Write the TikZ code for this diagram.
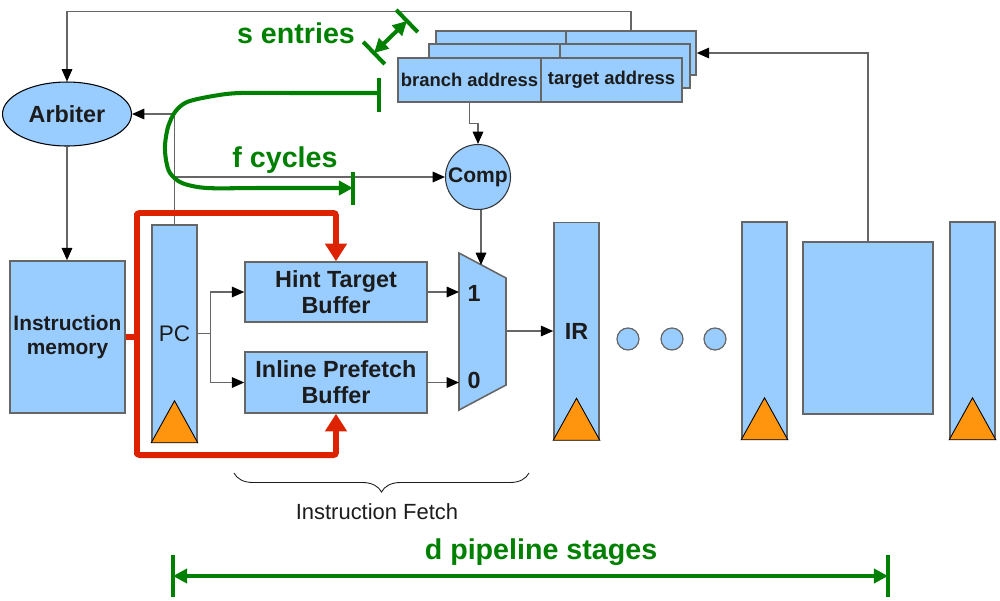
\documentclass[tikz,border=0pt]{standalone}
\usepackage{fontspec}
\setmainfont{Liberation Sans}
\usetikzlibrary{arrows.meta, calc, decorations.pathreplacing, positioning, shapes.geometric}
\definecolor{boxblue}{HTML}{99CCFF}
\definecolor{edgegray}{HTML}{666666}
\definecolor{clkorange}{HTML}{FF950E}
\definecolor{busred}{HTML}{DD2200}
\definecolor{annogreen}{HTML}{008000}
\definecolor{txt}{HTML}{1C1C1C}
\tikzset{
  >={Triangle[length=7pt, width=6pt, color=black]},
  shell/.style={draw=edgegray, fill=boxblue, line width=0.9pt},
  blk/.style={shell, inner sep=0pt, text=txt, align=center},
  reg/.style={blk, minimum width=0.9cm, minimum height=4.34cm},
  lbl/.style={font=\fontsize{13.3}{14.7}\selectfont\bfseries},
  tbl/.style={blk, minimum height=0.88cm, font=\fontsize{10.5}{12}\selectfont\bfseries},
  wire/.style={draw=edgegray, line width=0.8pt},
  bus/.style={draw=busred, line width=3.4pt, rounded corners=1.5pt,
    >={Triangle[length=10pt, width=12pt, color=busred]}},
  anno/.style={draw=annogreen, line width=2.3pt,
    >={Triangle[length=8pt, width=8pt, color=annogreen]}},
  annotext/.style={text=annogreen, font=\fontsize{16.3}{18}\selectfont\bfseries},
  clk/.style={draw=black, fill=clkorange, line width=0.5pt},
  bubble/.style={circle, draw=edgegray, fill=boxblue, minimum size=0.44cm, line width=0.7pt, inner sep=0pt},
}
% clock mark at the bottom of a register
\newcommand\clockmark[1]{\draw[clk] (#1.south west) -- (#1.south east) -- ([yshift=0.84cm]#1.south) -- cycle;}

\begin{document}
\begin{tikzpicture}[x=0.02cm, y=-0.02cm]
  \useasboundingbox (0,0) rectangle (1000,600);

  % tag table: three stacked copies, only the front one readable
  \node[tbl, minimum width=2.6cm] (bk1) at (501,53) {};
  \node[tbl, minimum width=2.6cm] (bk2) at (631,53) {};
  \node[tbl, minimum width=2.62cm] (md1) at (494.5,66) {};
  \node[tbl, minimum width=2.6cm] (md2) at (625,66) {};
  \node[tbl, minimum width=2.86cm] (fr1) at (469.5,80) {branch address};
  \node[tbl, minimum width=2.82cm] (fr2) at (611.5,80) {target address};

  % front end
  \node[ellipse, draw=black, fill=boxblue, line width=0.6pt, minimum width=2.58cm,
    minimum height=1.28cm, inner sep=0pt, text=txt, font=\fontsize{13.3}{15}\selectfont\bfseries] (arb) at (67,114) {Arbiter};
  \node[blk, minimum width=2.3cm, minimum height=3.04cm, font=\fontsize{11.9}{13.6}\selectfont\bfseries] (imem) at (67.5,337) {Instruction\\memory};
  \node[reg, font=\fontsize{12.8}{14}\selectfont] (pc) at (174.5,333.5) {PC};
  \node[blk, lbl, minimum width=3.64cm, minimum height=1.2cm] (htb) at (336,292) {Hint Target\\Buffer};
  \node[blk, lbl, minimum width=3.64cm, minimum height=1.22cm] (ipb) at (336,382.5) {Inline Prefetch\\Buffer};
  \node[circle, draw=black!80, fill=boxblue, line width=0.6pt, minimum size=1.3cm, inner sep=0pt,
    text=txt, font=\fontsize{12}{14}\selectfont\bfseries] (comp) at (478,177) {Comp};

  % mux
  \draw[shell] (459,253) -- (506,278) -- (506,385) -- (459,410) -- cycle;
  \coordinate (mux1) at (459,292);
  \coordinate (mux0) at (459,382.5);
  \coordinate (muxout) at (506,331);
  \coordinate (muxtop) at (481,265);
  \node[lbl, text=txt] (in1) at (474,293) {1};
  \node[lbl, text=txt] (in0) at (474,380) {0};

  % pipeline
  \node[reg, lbl] (ir) at (576.5,331) {IR};
  \foreach \x/\n in {628/d1, 672/d2, 715/d3}
    \node[bubble] (\n) at (\x,339) {};
  \node[reg] (rg3) at (764.5,330.5) {};
  \node[blk, minimum width=2.6cm, minimum height=3.44cm] (exe) at (868,328) {};
  \node[reg] (rg4) at (972.5,330.5) {};
  \foreach \r in {pc, ir, rg3, rg4}
    {\clockmark{\r}}

  % wires
  \draw[wire, ->] (bk2.north) -- ++(0,-19) -| (arb.north);
  \draw[wire, ->] (arb.south) -- (arb.south |- imem.north);
  \draw[wire, ->] (pc.north) |- (arb.east);
  \draw[wire, ->] (pc.north |- comp.west) -- (comp.west);
  \draw[wire, ->] (fr1.south) -- ++(0,21) -| (comp.north);
  \draw[wire, ->] (comp.south -| muxtop) -- (muxtop);
  \draw[wire, ->] (pc.east) -- ++(13,0) |- (htb.west);
  \draw[wire, ->] (pc.east) -- ++(13,0) |- (ipb.west);
  \draw[wire, ->] (htb.east) -- (mux1);
  \draw[wire, ->] (ipb.east) -- (mux0);
  \draw[wire, ->] (muxout) -- (muxout -| ir.west);
  \draw[wire, ->] (exe.north) |- (bk2.east);

  % hint path from instruction memory
  \coordinate (rtop) at (137,213);
  \coordinate (rbot) at (137,455);
  \draw[bus] (imem.east) -- (imem.east -| rtop);
  \draw[bus, ->] (rbot) -- (rtop) -| (htb.north);
  \draw[bus, ->] (rtop) -- (rbot) -| (ipb.south);

  % brace
  \draw[txt, line width=0.5pt, decorate, decoration={brace, amplitude=0.38cm, mirror}] (234,473) -- (529,473);
  \node[text=txt, font=\fontsize{12.5}{14}\selectfont] (ifetch) at (377,512) {Instruction Fetch};

  % annotations
  \node[annotext] (sent) at (296,33) {s entries};
  \coordinate (sa) at (374,53);
  \coordinate (sb) at (407,21);
  \draw[anno, <->] (sa) -- (sb);
  \draw[anno] ($(sa)!0.31cm!90:(sb)$) -- ($(sa)!0.31cm!-90:(sb)$);
  \draw[anno] ($(sb)!0.31cm!90:(sa)$) -- ($(sb)!0.31cm!-90:(sa)$);

  \node[annotext] (fcyc) at (285,160) {f cycles};
  \coordinate (sbar) at (379,93);
  \coordinate (fbar) at (353,188);
  \draw[anno] (379,78) -- (379,112);
  \draw[anno] (353,172) -- (353,205);
  \draw[anno, ->] plot[smooth, tension=0.5] coordinates {(sbar) (300,93) (240,93) (213,96) (187,102)
    (175,112) (168,127) (165,145) (166,160) (170,173) (182,183) (207,188) (260,188) (fbar)};

  \node[annotext] (dstg) at (541,552) {d pipeline stages};
  \coordinate (dl) at (173,576);
  \coordinate (dr) at (888,576);
  \draw[anno, <->] (dl) -- (dr);
  \draw[anno] (173,555) -- (173,597);
  \draw[anno] (888,555) -- (888,597);
\end{tikzpicture}
\end{document}
